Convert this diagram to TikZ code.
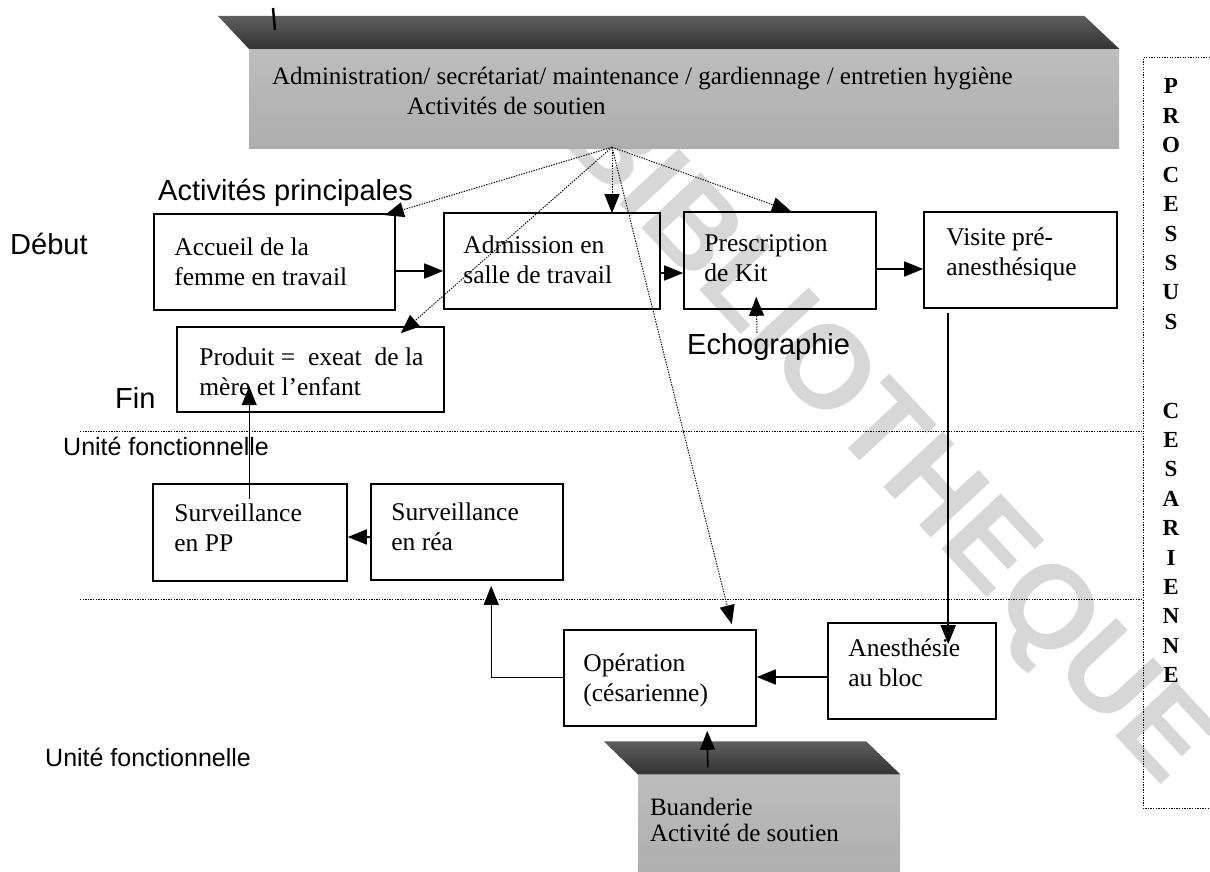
\documentclass[tikz,border=0pt]{standalone}
\usepackage{fontspec}
\setmainfont{Liberation Serif}
\newfontfamily\arialfam{Liberation Sans}
\usetikzlibrary{arrows.meta,calc}
\definecolor{roofdark}{HTML}{333333}
\definecolor{roofmid}{HTML}{5E5E5E}
\definecolor{facetop}{HTML}{BDBDBD}
\definecolor{facemid}{HTML}{9E9E9E}
\definecolor{facebot}{HTML}{ADADAD}
\definecolor{wmark}{HTML}{D7D7D7}
\begin{document}
\begin{tikzpicture}[x=1pt,y=-1pt,
  stagebox/.style={draw=black,line width=1.6pt,rectangle,inner sep=0pt},
  stagetext/.style={anchor=west,align=left,inner sep=0pt,font=\fontsize{25.5}{30}\selectfont},
  bannertext/.style={anchor=base west,inner sep=0pt,font=\fontsize{25}{30}\selectfont},
  sidetag/.style={inner sep=0pt,anchor=base west,font=\arialfam\fontsize{29}{34}\selectfont},
  unittag/.style={inner sep=0pt,anchor=base west,font=\arialfam\fontsize{25}{30}\selectfont},
  vlet/.style={inner sep=0pt,anchor=base,font=\bfseries\fontsize{23}{28}\selectfont},
  flow/.style={line width=1.6pt,-{Triangle[length=19pt,width=15pt]}},
  thinflow/.style={line width=1pt,-{Triangle[length=19pt,width=15pt]}},
  support/.style={line width=1pt,dash pattern=on 1.3pt off 1.3pt,-{Triangle[length=19pt,width=15pt]}},
  separator/.style={line width=1pt,dash pattern=on 1.3pt off 1.3pt},
  face/.style={inner sep=0pt,top color=facetop,middle color=facemid,bottom color=facebot},
]
\useasboundingbox (0,0) rectangle (1210,872);
\clip (0,0) rectangle (1210,872);

% --- watermark, lying under everything else ---
\node[rotate=-47,text=wmark,inner sep=0pt,
  font=\arialfam\bfseries\fontsize{118}{118}\selectfont] (wm) at (882,442) {BIBLIOTHEQUE};

% --- support activities banner (top) ---
\node[face,minimum width=870,minimum height=100] (admin) at (684,99) {};
\shade[top color=roofmid,bottom color=roofdark]
  (admin.north west) -- ++(-31,-33) -- ($(admin.north east)+(-35,-33)$)
  -- (admin.north east) -- cycle;
\draw[line width=2.5pt] (273,8) -- (275,30);

% --- laundry banner (bottom) ---
\node[face,minimum width=262,minimum height=105] (laundry) at (769,827) {};
\shade[top color=roofmid,bottom color=roofdark]
  (laundry.north west) -- ++(-34,-33) -- ($(laundry.north east)+(-34,-33)$)
  -- (laundry.north east) -- cycle;

% --- banner texts ---
\node[bannertext] (adminA) at ($(admin.north west)+(23,36)$)
  {Administration/ secrétariat/ maintenance / gardiennage / entretien hygiène};
\node[bannertext] (adminB) at ($(admin.north west)+(158,66)$) {Activités de soutien};
\node[bannertext] (laundryA) at ($(laundry.north west)+(12,41)$) {Buanderie};
\node[bannertext] (laundryB) at ($(laundry.north west)+(12,67)$) {Activité de soutien};

% --- functional unit separators and process frame ---
\draw[separator] (80,431) -- (1143,431);
\draw[separator] (80,599) -- (1143,599);
\draw[separator] (1215,58) -- (1143,58) -- (1143,808) -- (1215,808);
\foreach \ch [count=\i] in {P,R,O,C,E,S,S,U,S}
  \node[vlet] (proc\i) at (1171,{94+29.4*(\i-1)}) {\ch};
\foreach \ch [count=\i] in {C,E,S,A,R,I,E,N,N,E}
  \node[vlet] (ces\i) at (1171,{418+29.4*(\i-1)}) {\ch};

% --- side labels ---
\node[sidetag] (start) at (10,254) {Début};
\node[sidetag] (finish) at (115,408) {Fin};
\node[sidetag] (mainact) at (158,200) {Activités principales};
\node[sidetag] (echo) at (687,354) {Echographie};
\node[unittag] (unitA) at (63,455) {Unité fonctionnelle};
\node[unittag] (unitB) at (45,766) {Unité fonctionnelle};

% --- process steps ---
\node[stagebox,minimum width=241,minimum height=96] (accueil) at (274.5,262) {};
\node[stagebox,minimum width=216,minimum height=96] (admission) at (552,261) {};
\node[stagebox,minimum width=192,minimum height=97] (prescription) at (780,260.5) {};
\node[stagebox,minimum width=193,minimum height=96] (visite) at (1020.5,260) {};
\node[stagebox,minimum width=267,minimum height=85] (produit) at (310.5,369.5) {};
\node[stagebox,minimum width=194,minimum height=97] (pp) at (250,532.5) {};
\node[stagebox,minimum width=192,minimum height=96] (rea) at (467,532) {};
\node[stagebox,minimum width=192,minimum height=96] (operation) at (660,678) {};
\node[stagebox,minimum width=168,minimum height=96] (anesthesie) at (912,671) {};

\node[stagetext] (accueilT) at ($(accueil.west)+(21,0)$) {Accueil de la\\femme en travail};
\node[stagetext] (admissionT) at ($(admission.west)+(20,-1)$) {Admission en\\salle de travail};
\node[stagetext] (prescriptionT) at ($(prescription.west)+(21,-2)$) {Prescription\\de Kit};
\node[stagetext] (visiteT) at ($(visite.west)+(23,-6)$) {Visite pré-\\anesthésique};
\node[stagetext] (produitT) at ($(produit.west)+(23,2)$) {Produit =\ \ exeat\ \ de la\\mère et l’enfant};
\node[stagetext] (ppT) at ($(pp.west)+(22,-5)$) {Surveillance\\en PP};
\node[stagetext] (reaT) at ($(rea.west)+(21,-5)$) {Surveillance\\en réa};
\node[stagetext] (operationT) at ($(operation.west)+(20,2)$) {Opération\\(césarienne)};
\node[stagetext] (anesthesieT) at ($(anesthesie.west)+(21,-8)$) {Anesthésie\\au bloc};

% --- main flow ---
\coordinate (f1) at ($(accueil.east)+(0,9)$);
\draw[flow] (f1) -- (f1 -| admission.west);
\coordinate (f2) at ($(admission.east)+(0,12)$);
\draw[flow] (f2) -- (f2 -| prescription.west);
\coordinate (f3) at ($(prescription.east)+(0,8.5)$);
\draw[flow] (f3) -- (f3 -| visite.west);
\draw[flow] ($(visite.south west)+(25,4)$) -- ($(anesthesie.north west)+(121,22)$);
\coordinate (f5) at ($(anesthesie.west)+(0,6)$);
\draw[flow] (f5) -- (f5 -| operation.east);
\coordinate (f6) at ($(operation.west)+(0,-1)$);
\coordinate (f6tip) at ($(rea.south west)+(121,5)$);
\draw[thinflow] (f6) -- (f6 -| f6tip) -- (f6tip);
\coordinate (f7) at ($(rea.west)+(0,5)$);
\draw[flow] (f7) -- (f7 -| pp.east);
\draw[thinflow] ($(pp.north west)+(97,16)$) -- ($(produit.north west)+(73,60)$);
\draw[flow] ($(laundry.north west)+(70,-7)$) -- ($(operation.south west)+(144,4)$);
\draw[support] ($(echo.north west)+(70,0)$) -- ($(prescription.south west)+(73,-13)$);

% --- support activity links ---
\coordinate (src) at ($(admin.south)+(-72,-2)$);
\draw[support] (src) -- ($(accueil.north east)+(-11,2)$);
\draw[support] (src) -- ($(admission.north)+(60,1)$);
\draw[support] (src) -- ($(prescription.north)+(11,0)$);
\draw[support] (src) -- ($(produit.north east)+(-44,7)$);
\draw[support] (src) -- ($(operation.north east)+(-25,-5)$);
\end{tikzpicture}
\end{document}
